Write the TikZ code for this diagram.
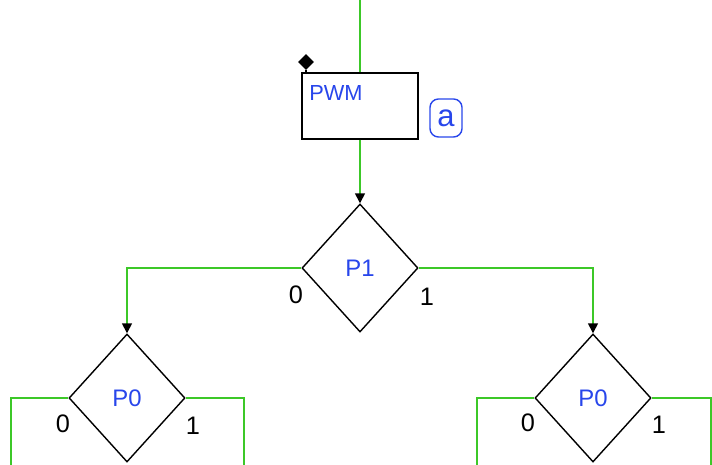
\documentclass[tikz,border=0pt]{standalone}
\usepackage{fontspec}
\setmainfont{Liberation Sans}
\usetikzlibrary{arrows.meta,shapes.geometric}

\definecolor{wiregreen}{RGB}{60,200,40}
\definecolor{textblue}{RGB}{40,70,235}

\tikzset{
  decision/.style={diamond, draw, line width=1pt, aspect=0.9,
    minimum width=2.9cm, minimum height=3.2cm, inner sep=0pt,
    font=\fontsize{17}{17}\selectfont, text=textblue},
  wire/.style={draw=wiregreen, line width=1.1pt},
  flow/.style={wire, -{Triangle[color=black,length=7pt,width=7pt]}},
  branch/.style={font=\fontsize{18}{18}\selectfont}
}

\begin{document}
\begin{tikzpicture}[x=0.025cm, y=-0.025cm]
  \useasboundingbox (0,0) rectangle (712,465);

  % action box
  \coordinate (in) at (360,0);
  \node[draw, line width=1pt, minimum width=2.9cm, minimum height=1.65cm,
    inner sep=0pt] (pwm) at (360,106) {};
  \node[anchor=north west, inner sep=0pt, text=textblue,
    font=\fontsize{15.5}{15.5}\selectfont] (pwmlabel) at (309,85) {PWM};
  \node[diamond, fill=black, minimum size=0.4cm, inner sep=0pt] (mark) at (306,62) {};
  \draw[line width=1pt] (mark.south) -- (pwm.north west -| mark.south);
  \node[draw=textblue, text=textblue, rounded corners=6pt, line width=1pt,
    minimum width=0.8cm, minimum height=0.95cm, inner sep=0pt,
    font=\fontsize{22}{22}\selectfont] (tag) at (446,118) {a};

  % decisions
  \node[decision] (p1) at (360,268) {P1};
  \node[decision] (p0l) at (127,398) {P0};
  \node[decision] (p0r) at (593,398) {P0};

  \node[branch] (p1zero) at (296,295) {0};
  \node[branch] (p1one) at (427,297) {1};
  \node[branch] (p0lzero) at (63,424) {0};
  \node[branch] (p0lone) at (193,426) {1};
  \node[branch] (p0rzero) at (528,423) {0};
  \node[branch] (p0rone) at (659,425) {1};

  \coordinate (outa) at (11,465);
  \coordinate (outb) at (244,465);
  \coordinate (outc) at (477,465);
  \coordinate (outd) at (711,465);

  % connectors
  \draw[wire] (in) -- (pwm.north);
  \draw[flow] (pwm.south) -- (p1.north);
  \draw[flow] (p1.west) -| (p0l.north);
  \draw[flow] (p1.east) -| (p0r.north);
  \draw[wire] (p0l.west) -| (outa);
  \draw[wire] (p0l.east) -| (outb);
  \draw[wire] (p0r.west) -| (outc);
  \draw[wire] (p0r.east) -| (outd);
\end{tikzpicture}
\end{document}
